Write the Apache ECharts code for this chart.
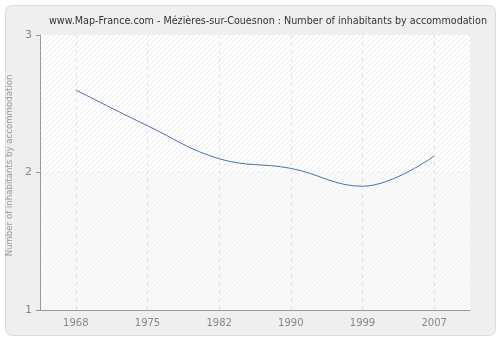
<!DOCTYPE html>
<html><head><meta charset="utf-8">
<script src="https://cdn.jsdelivr.net/npm/echarts@6/dist/echarts.min.js"></script>
<style>html,body{margin:0;padding:0;background:#fff}#c{width:500px;height:340px}</style>
</head><body><div id="c"></div>
<script>
var titleText = "www.Map-France.com - Mézières-sur-Couesnon : Number of inhabitants by accommodation";
var yAxisName = "Number of inhabitants by accommodation";
var years = ["1968", "1975", "1982", "1990", "1999", "2007"];
var values = [2.60, 2.34, 2.10, 2.03, 1.90, 2.12];
var yMin = 1, yMax = 3, yStep = 1;

function makePattern(bg, line) {
  var c = document.createElement('canvas');
  c.width = 5; c.height = 5;
  var g = c.getContext('2d');
  g.fillStyle = bg; g.fillRect(0, 0, 5, 5);
  g.strokeStyle = line; g.lineWidth = 1;
  g.beginPath();
  g.moveTo(0, 5); g.lineTo(5, 0);
  g.moveTo(-2.5, 2.5); g.lineTo(2.5, -2.5);
  g.moveTo(2.5, 7.5); g.lineTo(7.5, 2.5);
  g.stroke();
  return c;
}
var upperPat = makePattern('#ffffff', '#e9e9e9');
var lowerPat = makePattern('#fafafa', '#f1f1f1');

var chart = echarts.init(document.getElementById('c'), null, {renderer: 'canvas'});
chart.setOption({
  animation: false,
  backgroundColor: '#ffffff',
  graphic: [{
    type: 'rect', left: 5, top: 5, z: -10,
    shape: {width: 490, height: 330, r: 6},
    style: {fill: '#efefef', stroke: '#dcdcdc', lineWidth: 1}
  }],
  title: {
    text: titleText, left: 263, textAlign: 'center', top: 11,
    textStyle: {fontFamily: 'DejaVu Sans', fontSize: 9.6, fontWeight: 'normal', color: '#333'}
  },
  grid: {left: 40, right: 30, top: 35, bottom: 30, containLabel: false, outerBoundsMode: 'none'},
  xAxis: {
    type: 'category', data: years, boundaryGap: true,
    axisLine: {lineStyle: {color: '#999'}},
    axisTick: {alignWithLabel: true, length: 4, lineStyle: {color: '#999'}},
    axisLabel: {color: '#888', fontFamily: 'DejaVu Sans', fontSize: 10, margin: 8},
    splitLine: {show: false}
  },
  yAxis: {
    type: 'value', min: yMin, max: yMax, interval: yStep,
    name: yAxisName, nameLocation: 'middle', nameGap: 22,
    nameTextStyle: {color: '#999', fontFamily: 'DejaVu Sans', fontSize: 8.6, padding: [0, 0, 0, 14]},
    axisLine: {show: true, lineStyle: {color: '#999'}},
    axisTick: {show: true, length: 4, lineStyle: {color: '#999'}},
    axisLabel: {color: '#888', fontFamily: 'DejaVu Sans', fontSize: 11, margin: 8},
    splitLine: {show: true, lineStyle: {color: '#e2e2e2', type: [4, 4]}}
  },
  series: [{
    type: 'line', data: values, smooth: 0.4, symbol: 'none',
    lineStyle: {color: '#4a72a8', width: 1},
    z: 5,
    markArea: {
      silent: true,
      data: [
        [{yAxis: 2, itemStyle: {color: {image: upperPat, repeat: 'repeat'}}}, {yAxis: 3}],
        [{yAxis: 1, itemStyle: {color: {image: lowerPat, repeat: 'repeat'}}}, {yAxis: 2}]
      ],
      z: 0
    },
    markLine: {
      silent: true, symbol: 'none', label: {show: false},
      lineStyle: {color: '#e2e2e2', type: [4, 4], width: 1},
      data: years.map(function (y) { return {xAxis: y}; })
    }
  }]
});
</script></body></html>
